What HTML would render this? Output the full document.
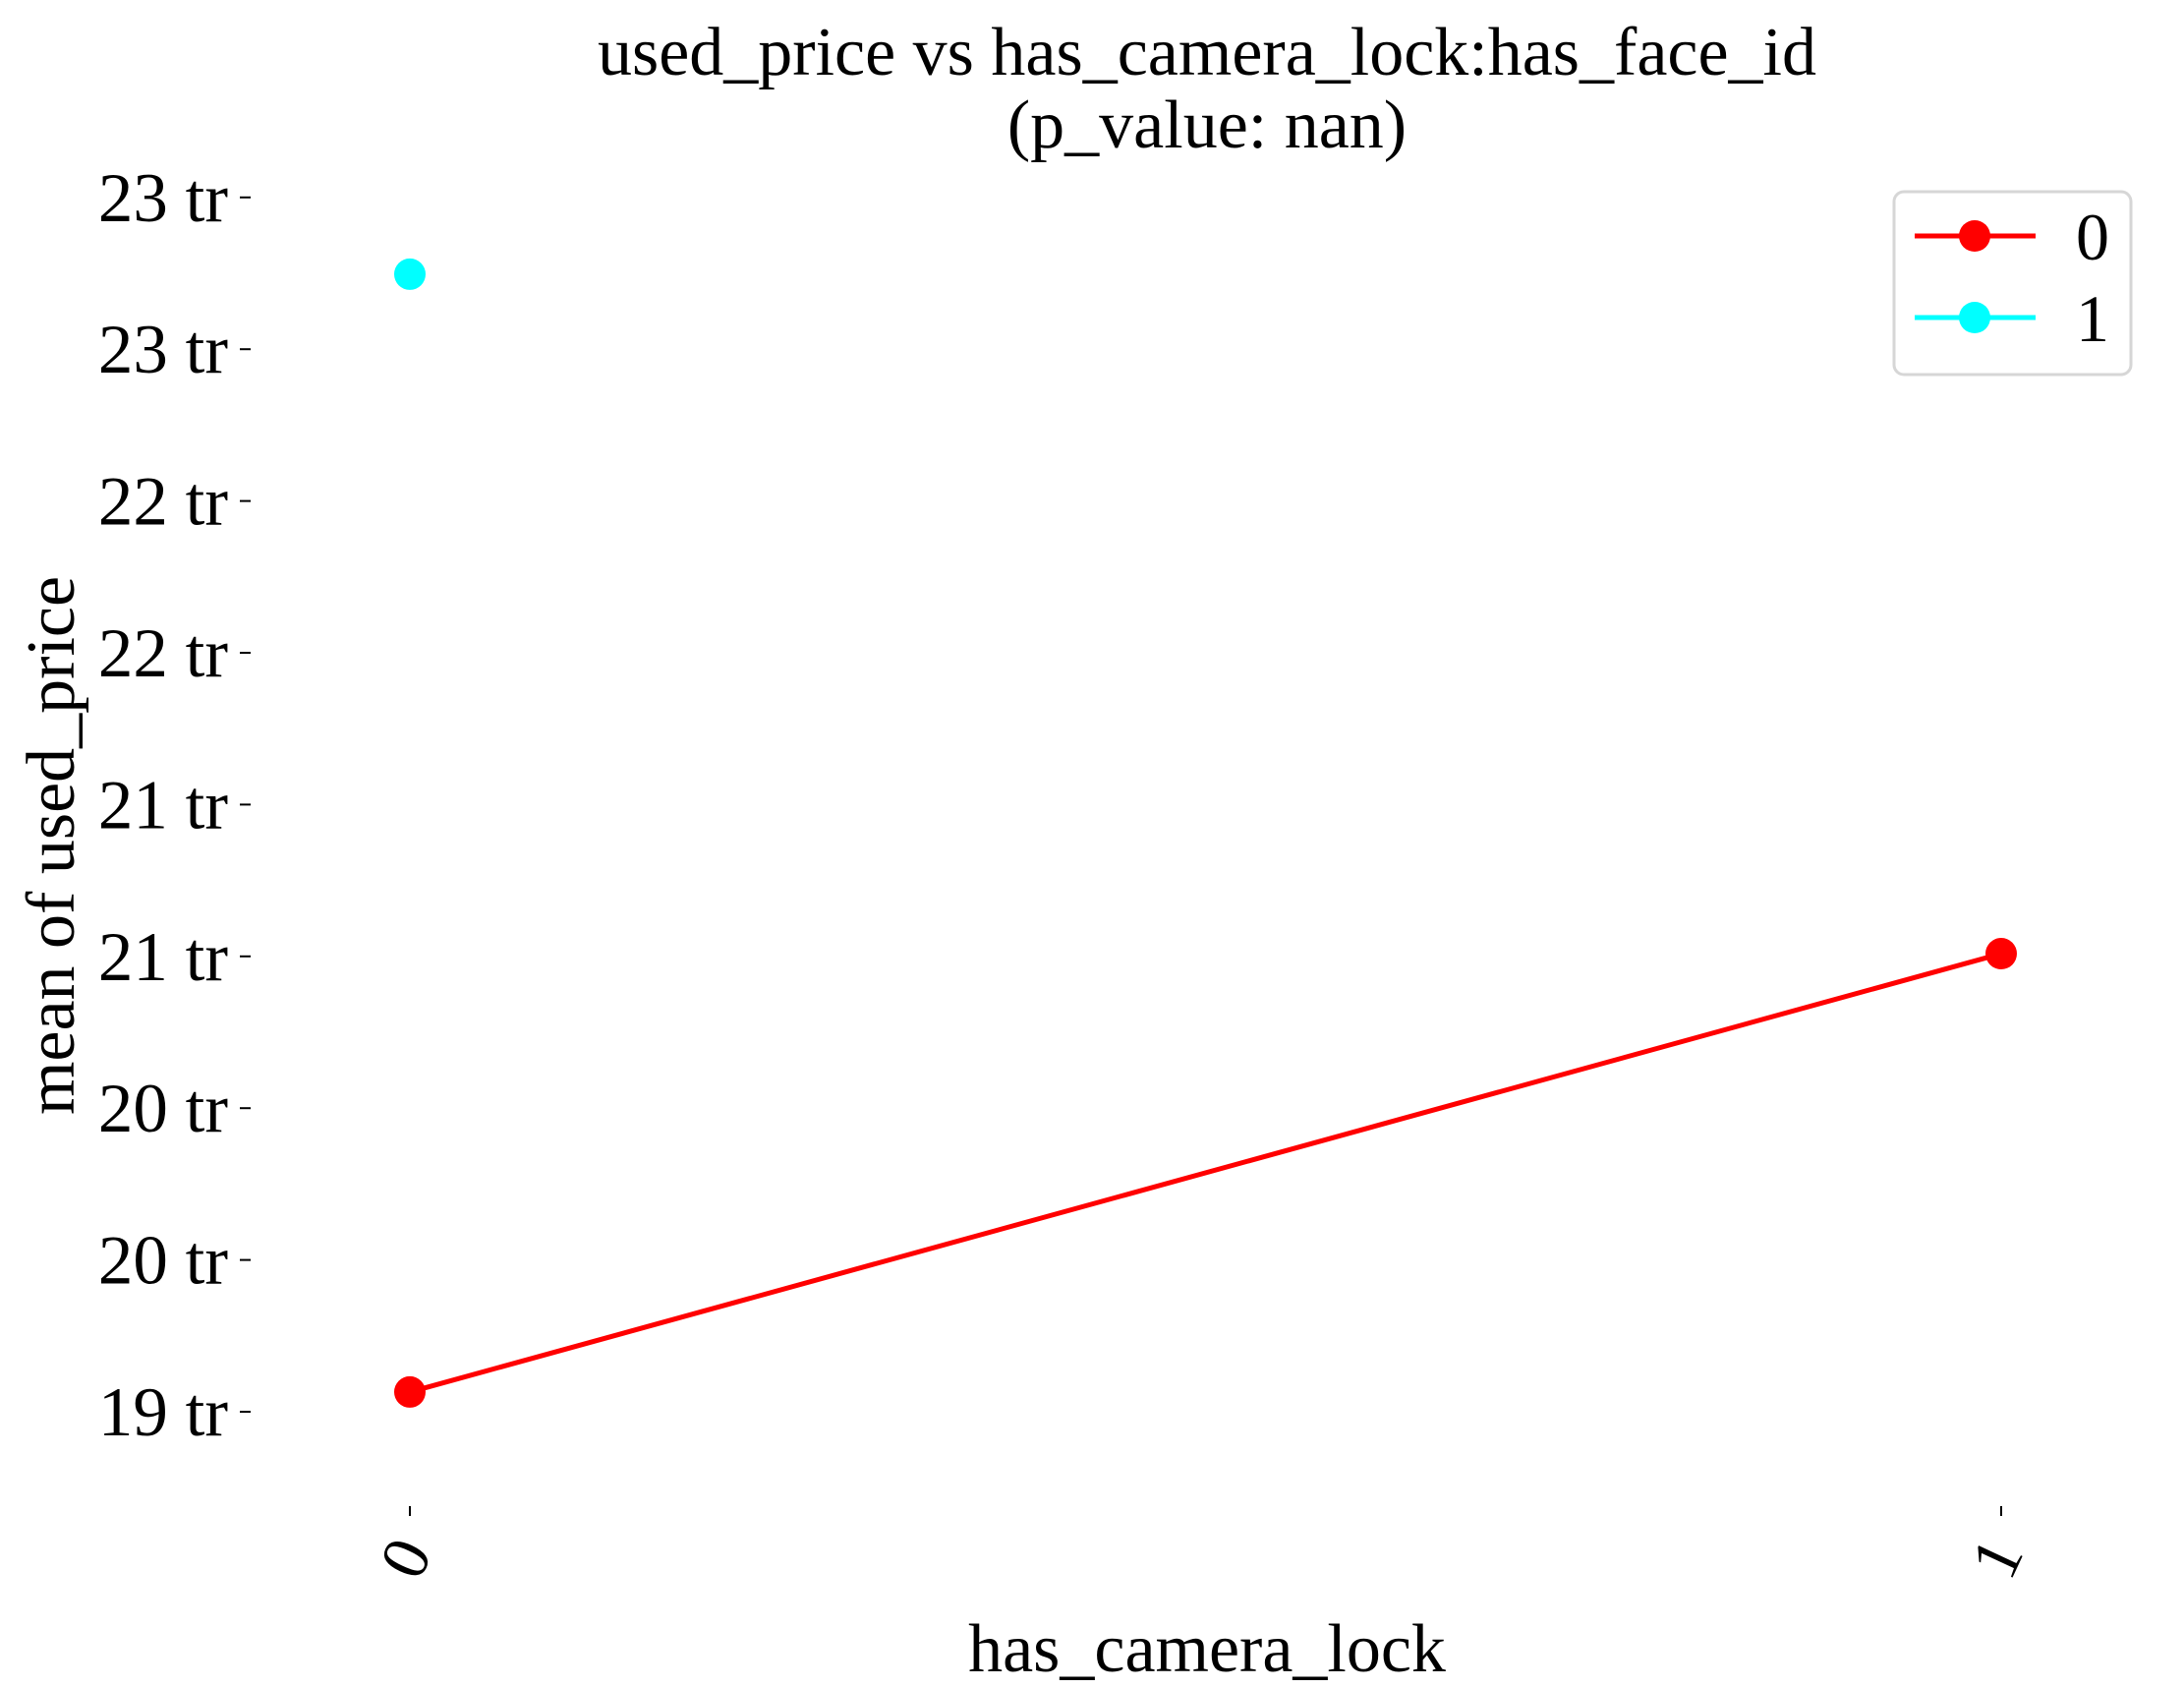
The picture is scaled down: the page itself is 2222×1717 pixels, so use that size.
<!DOCTYPE html>
<html><head><meta charset="utf-8"><style>
html,body{margin:0;padding:0;background:#fff;}
svg{display:block;font-family:"Liberation Serif",serif;}
</style></head><body>
<svg id="chart" width="2222" height="1717" viewBox="0 0 2222 1717">
<text x="1228" y="76" font-size="70" text-anchor="middle">used_price vs has_camera_lock:has_face_id</text>
<text x="1228" y="150" font-size="70" text-anchor="middle">(p_value: nan)</text>
<text transform="translate(75,860) rotate(-90)" font-size="70" text-anchor="middle">mean of used_price</text>
<text x="1228" y="1700" font-size="70" text-anchor="middle">has_camera_lock</text>
<g id="yaxis"></g>
<g id="xaxis"></g>
<g id="series"></g>
<g>
<rect x="1927" y="195" width="241" height="186" rx="10" fill="#fff" stroke="#d6d6d6" stroke-width="3"/>
<g>
<line x1="1948" y1="240" x2="2071" y2="240" stroke="#ff0000" stroke-width="5"/>
<circle cx="2009" cy="240" r="16" fill="#ff0000"/>
<text x="2129" y="264" font-size="68" text-anchor="middle">0</text>
</g>
<g>
<line x1="1948" y1="323" x2="2071" y2="323" stroke="#00ffff" stroke-width="5"/>
<circle cx="2009" cy="323" r="16" fill="#00ffff"/>
<text x="2129" y="347" font-size="68" text-anchor="middle">1</text>
</g>
</g>
</svg>
<script>
const categories = ["0", "1"];
const yTickValues = [19, 19.5, 20, 20.5, 21, 21.5, 22, 22.5, 23];
const yTickLabels = ["19 tr", "20 tr", "20 tr", "21 tr", "21 tr", "22 tr", "22 tr", "23 tr", "23 tr"];
const seriesNames = ["0", "1"];
const series0Values = [19.065, 20.509];
const series1Values = [22.747, null];

const NS = "http://www.w3.org/2000/svg";
function yScale(v){ return 1436 - (v - 19) / 0.5 * 154.4; }
function xScale(i){ return 417 + i * (2036 - 417); }
function mk(tag, attrs, parent){ const e=document.createElementNS(NS,tag); for(const k in attrs) e.setAttribute(k, attrs[k]); parent.appendChild(e); return e; }

const yaxis=document.getElementById('yaxis');
yTickValues.forEach((v,i)=>{
  const y=yScale(v);
  const t=mk('line',{x1:244,y1:y,x2:255,y2:y,stroke:'#000','stroke-width':2},yaxis);
  
  
  const l=mk('text',{x:232,y:y+24,'font-size':71,'text-anchor':'end'},yaxis);
  l.textContent=yTickLabels[i];
  
  
});
const xaxis=document.getElementById('xaxis');
categories.forEach((c,i)=>{
  const x=xScale(i);
  const t=mk('line',{x1:x,y1:1532,x2:x,y2:1542,stroke:'#000','stroke-width':2},xaxis);
  
  
  const l=mk('text',{transform:`translate(${x+2},${1588}) rotate(-65)`,'font-size':68,'text-anchor':'middle','dominant-baseline':'middle'},xaxis);
  l.textContent=c;
  
  
});
const sg=document.getElementById('series');
function drawSeries(vals,color,name){
  const pts=[];
  vals.forEach((v,i)=>{ if(v!==null) pts.push([xScale(i),yScale(v)]); });
  if(pts.length>1){
    const pl=mk('polyline',{points:pts.map(p=>p.join(',')).join(' '),fill:'none',stroke:color,'stroke-width':5},sg);
    
    
  }
  pts.forEach(p=>{
    const c=mk('circle',{cx:p[0],cy:p[1],r:16,fill:color},sg);
    
    
  });
}
drawSeries(series0Values,'#ff0000','series-0');
drawSeries(series1Values,'#00ffff','series-1');
</script>
</body></html>
